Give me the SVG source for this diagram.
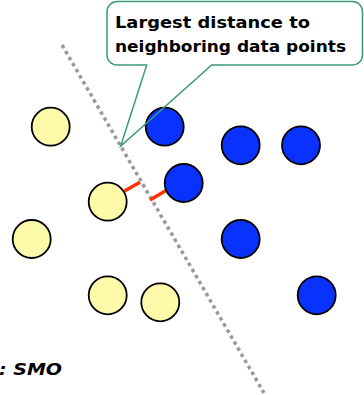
<svg xmlns="http://www.w3.org/2000/svg" width="364" height="395" viewBox="0 0 364 395">
<style>
.y{fill:#fdfbaa;stroke:#000;stroke-width:1.8}
.b{fill:#0a32ff;stroke:#000;stroke-width:1.8}
.t{font-family:"DejaVu Sans",sans-serif;font-weight:bold;font-size:16px;fill:#000}
.red{stroke:#ff3300;stroke-width:3.5;stroke-linecap:butt}
</style>
<rect width="364" height="395" fill="#fff"/>
<g id="connectors">
<line x1="62" y1="45" x2="264" y2="393" stroke="#999" stroke-width="3.5" stroke-dasharray="3.5 3.5"/>
<line class="red" x1="124.5" y1="191" x2="140" y2="182.3"/>
<line class="red" x1="150" y1="200" x2="166" y2="190.5"/>
</g>
<g id="yellow1"><circle class="y" cx="50.7" cy="126.7" r="19"/></g>
<g id="yellow2"><circle class="y" cx="107.7" cy="201.7" r="19"/></g>
<g id="yellow3"><circle class="y" cx="31.7" cy="239" r="19"/></g>
<g id="yellow4"><circle class="y" cx="107.7" cy="295.3" r="19"/></g>
<g id="yellow5"><circle class="y" cx="160.3" cy="302.3" r="19"/></g>
<g id="blue1"><circle class="b" cx="164.7" cy="126.7" r="19"/></g>
<g id="blue2"><circle class="b" cx="240.7" cy="145.3" r="19"/></g>
<g id="blue3"><circle class="b" cx="301" cy="145.3" r="19"/></g>
<g id="blue4"><circle class="b" cx="183.7" cy="183" r="19"/></g>
<g id="blue5"><circle class="b" cx="240.7" cy="239" r="19"/></g>
<g id="blue6"><circle class="b" cx="316.7" cy="295.3" r="19"/></g>
<g id="callout">
<rect x="107" y="1.5" width="255.5" height="63.5" rx="10" fill="#fff"/>
<path d="M117,1.5 H352.5 A10,10 0 0 1 362.5,11.5 V55 A10,10 0 0 1 352.5,65 H211.7 L120.7,146 L146.7,65 H117 A10,10 0 0 1 107,55 V11.5 A10,10 0 0 1 117,1.5 Z" fill="none" stroke="#3a9a7a" stroke-width="1.5" stroke-linejoin="miter"/>
<text class="t" x="115" y="27.5" textLength="195" lengthAdjust="spacingAndGlyphs">Largest distance to</text>
<text class="t" x="115" y="52" textLength="231" lengthAdjust="spacingAndGlyphs">neighboring data points</text>
</g>
<g id="label">
<text class="t" x="-1" y="374.5" font-style="italic" font-size="17" textLength="63" lengthAdjust="spacingAndGlyphs">: SMO</text>
</g>
</svg>
